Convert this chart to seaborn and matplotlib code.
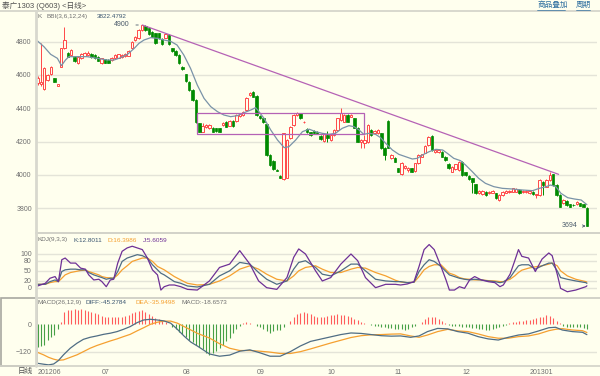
import numpy as np
import matplotlib
matplotlib.use("Agg")
import matplotlib.pyplot as plt
import seaborn as sns
from matplotlib.patches import Rectangle

# daily bars
opens = [4550, 4544, 4516, 4570, 4604, 4580, 4536, 4650, 4760, 4734,
         4720, 4710, 4670, 4700, 4716, 4720, 4726, 4720, 4710, 4670,
         4694, 4690, 4690, 4700, 4704, 4708, 4712, 4716, 4760, 4810,
         4820, 4870, 4896, 4880, 4860, 4850, 4850, 4816, 4824, 4840,
         4760, 4744, 4720, 4650, 4604, 4560, 4510, 4450, 4310, 4260,
         4286, 4280, 4284, 4280, 4280, 4300, 4320, 4296, 4324, 4324,
         4354, 4360, 4390, 4480, 4500, 4474, 4354, 4340, 4304, 4120,
         4084, 4030, 3994, 3976, 3984, 4220, 4300, 4360, 4370, 4316,
         4276, 4256, 4264, 4260, 4236, 4204, 4240, 4210, 4240, 4270,
         4330, 4320, 4360, 4350, 4340, 4284, 4200, 4190, 4196, 4270,
         4250, 4250, 4250, 4164, 4324, 4100, 4104, 4040, 4004, 4040,
         4028, 4040, 4024, 4070, 4110, 4134, 4180, 4236, 4136, 4136,
         4140, 4110, 4066, 4020, 4036, 4030, 4080, 4016, 3996, 3980,
         3944, 3890, 3886, 3900, 3890, 3894, 3890, 3850, 3880, 3894,
         3896, 3900, 3900, 3910, 3896, 3896, 3890, 3900, 3880, 3880,
         3960, 3930, 3970, 4004, 3940, 3880, 3830, 3844, 3824, 3822,
         3824, 3830, 3824, 3804]
closes = [4584, 4560, 4640, 4600, 4646, 4560, 4544, 4760, 4810, 4710,
          4750, 4684, 4710, 4724, 4730, 4730, 4706, 4700, 4686, 4700,
          4674, 4674, 4704, 4720, 4724, 4720, 4728, 4744, 4800, 4830,
          4870, 4900, 4870, 4844, 4830, 4790, 4820, 4786, 4844, 4786,
          4744, 4720, 4670, 4636, 4564, 4510, 4450, 4316, 4260, 4294,
          4300, 4300, 4260, 4264, 4260, 4314, 4290, 4324, 4294, 4360,
          4368, 4380, 4464, 4494, 4470, 4360, 4340, 4316, 4120, 4060,
          4036, 4026, 3984, 4250, 4210, 4290, 4360, 4370, 4340, 4318,
          4256, 4240, 4250, 4248, 4216, 4244, 4220, 4240, 4270, 4340,
          4370, 4360, 4320, 4360, 4284, 4200, 4210, 4210, 4300, 4240,
          4264, 4270, 4160, 4120, 4164, 4120, 4080, 4020, 4074, 4056,
          4044, 4020, 4070, 4120, 4124, 4174, 4230, 4150, 4150, 4150,
          4110, 4090, 4040, 4050, 4064, 4080, 4000, 4000, 3976, 3960,
          3890, 3904, 3904, 3880, 3900, 3904, 3860, 3880, 3900, 3904,
          3906, 3920, 3916, 3890, 3906, 3906, 3906, 3886, 3882, 3970,
          3940, 3970, 4000, 3940, 3880, 3810, 3850, 3820, 3810, 3818,
          3840, 3816, 3810, 3694]
highs = [4592, 4790, 4648, 4608, 4652, 4584, 4548, 4764, 4890, 4740,
         4756, 4714, 4714, 4730, 4736, 4742, 4730, 4724, 4714, 4704,
         4698, 4694, 4708, 4724, 4728, 4724, 4732, 4748, 4804, 4834,
         4874, 4900, 4898, 4884, 4864, 4854, 4854, 4820, 4848, 4844,
         4764, 4748, 4724, 4654, 4608, 4564, 4514, 4454, 4314, 4310,
         4304, 4304, 4288, 4284, 4284, 4318, 4324, 4328, 4328, 4364,
         4372, 4384, 4468, 4498, 4504, 4478, 4358, 4344, 4308, 4124,
         4088, 4034, 3998, 4254, 4214, 4294, 4364, 4376, 4374, 4324,
         4280, 4260, 4268, 4264, 4240, 4248, 4262, 4244, 4274, 4344,
         4400, 4364, 4364, 4364, 4344, 4288, 4214, 4240, 4304, 4274,
         4268, 4274, 4254, 4168, 4328, 4124, 4108, 4044, 4078, 4060,
         4048, 4044, 4074, 4124, 4128, 4178, 4234, 4240, 4154, 4154,
         4144, 4114, 4070, 4054, 4068, 4084, 4084, 4020, 4000, 3984,
         3948, 3908, 3908, 3904, 3904, 3908, 3894, 3884, 3904, 3908,
         3910, 3924, 3920, 3914, 3910, 3910, 3910, 3904, 3886, 3974,
         3964, 3974, 4020, 4008, 3944, 3884, 3854, 3848, 3828, 3826,
         3844, 3834, 3828, 3808]
lows = [4540, 4536, 4510, 4566, 4600, 4556, 4532, 4646, 4756, 4706,
        4716, 4680, 4666, 4696, 4712, 4716, 4702, 4696, 4682, 4666,
        4670, 4670, 4686, 4696, 4700, 4704, 4708, 4712, 4756, 4806,
        4816, 4866, 4866, 4840, 4826, 4786, 4816, 4782, 4820, 4782,
        4740, 4716, 4666, 4632, 4560, 4506, 4446, 4312, 4256, 4256,
        4282, 4276, 4256, 4260, 4256, 4296, 4286, 4292, 4290, 4320,
        4350, 4356, 4386, 4476, 4466, 4356, 4336, 4312, 4116, 4056,
        4032, 4022, 3980, 3972, 3980, 4216, 4296, 4356, 4336, 4312,
        4252, 4236, 4246, 4244, 4212, 4200, 4200, 4206, 4236, 4266,
        4326, 4316, 4316, 4346, 4280, 4196, 4160, 4160, 4192, 4236,
        4246, 4246, 4156, 4090, 4160, 4096, 4076, 4016, 4000, 4036,
        4016, 4016, 4020, 4066, 4106, 4130, 4176, 4146, 4132, 4132,
        4106, 4086, 4036, 4016, 4032, 4026, 3996, 3996, 3972, 3890,
        3886, 3886, 3882, 3876, 3886, 3890, 3856, 3846, 3876, 3890,
        3892, 3896, 3896, 3886, 3892, 3892, 3886, 3882, 3860, 3876,
        3880, 3926, 3966, 3936, 3876, 3806, 3826, 3816, 3806, 3814,
        3820, 3812, 3806, 3694]

# BBI(3,6,12,24) line, read at points along the chart
bbi_x = [0, 1.9, 3.9, 5.9, 7.1, 8.3, 9.3, 11.8, 14.7, 17.7,
         20.7, 22.7, 24.7, 26.7, 28.7, 30.1, 31.6, 33.6, 35.5, 37.5,
         39.5, 41.4, 43.4, 45.4, 47.4, 49.4, 51.4, 53.4, 55.3, 57.3,
         59.3, 61.3, 63.3, 64.7, 65.7, 67.2, 69.2, 71.2, 73.2, 74.6,
         76.6, 78.6, 80.6, 82.5, 84.5, 86.5, 88.4, 90.4, 92.4, 93.9,
         95.4, 96.8, 98.3, 100.3, 101.8, 103.3, 105.3, 107.2, 109.2, 111.2,
         112.7, 114.2, 116.2, 118.2, 120.2, 121.6, 123.5, 125.5, 127, 129,
         130.9, 132.9, 135.4, 137.9, 140.9, 143.9, 146.9, 148.9, 150.9, 152.2,
         153.8, 155.3, 157.3, 159.3, 161.3, 163]
bbi_y = [4804, 4770, 4724, 4700, 4656, 4690, 4710, 4710, 4710, 4700,
         4690, 4690, 4704, 4724, 4760, 4790, 4810, 4824, 4820, 4810,
         4802, 4780, 4720, 4640, 4540, 4460, 4410, 4380, 4360, 4350,
         4356, 4374, 4390, 4404, 4380, 4340, 4270, 4210, 4164, 4170,
         4210, 4260, 4275, 4260, 4250, 4244, 4250, 4280, 4296, 4290,
         4270, 4244, 4250, 4244, 4224, 4190, 4150, 4124, 4110, 4096,
         4100, 4120, 4140, 4154, 4150, 4130, 4100, 4086, 4060, 4020,
         3980, 3950, 3930, 3920, 3916, 3910, 3906, 3920, 3930, 3940,
         3930, 3890, 3864, 3856, 3850, 3822]

# KDJ(9,3,3)
kdj_x = [0, 2.3, 3.7, 5.2, 6.2, 7.2, 8.2, 9.8, 11.3, 12.8,
         14.2, 15.2, 16.7, 18.2, 19.1, 20.4, 21.6, 22.6, 23.8, 25.1,
         26.6, 28.1, 29.6, 31.1, 32.6, 34.1, 35.6, 36.6, 37.6, 39.1,
         40.6, 42.5, 44.5, 47.4, 51, 54, 57, 60, 63, 65.6,
         68, 71, 74, 76, 77.5, 79.5, 82.5, 84.5, 87, 90,
         93, 95, 97.3, 100.3, 103.3, 106.2, 107.7, 109.7, 111.7, 113.2,
         114.7, 116.2, 117.7, 119.7, 121.2, 122.2, 123.7, 125.2, 126.7, 128.2,
         129.7, 131.7, 133.7, 135.7, 137.2, 138.2, 140.2, 141.6, 142.7, 143.7,
         145.7, 147.7, 149.7, 151.7, 152.7, 154.2, 155.2, 157.2, 159.7, 162.7,
         163]
k_vals = [10, 10, 18, 23, 18, 48, 53, 55, 55, 53,
          53, 45, 38, 33, 30, 25, 28, 28, 48, 78,
          88, 93, 98, 95, 88, 68, 53, 43, 38, 28,
          18, 13, 5, 2, 10, 35, 50, 75, 70, 45,
          25, 10, 20, 55, 75, 80, 60, 40, 35, 50,
          70, 70, 50, 25, 20, 18, 18, 15, 16, 48,
          68, 83, 78, 63, 48, 38, 33, 28, 25, 23,
          25, 23, 20, 18, 15, 17, 30, 50, 65, 68,
          68, 55, 65, 73, 73, 50, 30, 25, 20, 15,
          12.8]
d_vals = [10, 10, 15, 18, 18, 28, 38, 45, 48, 51,
          52, 48, 43, 38, 33, 30, 29, 28, 38, 53,
          65, 78, 83, 88, 88, 78, 63, 58, 53, 43,
          33, 23, 13, 8, 10, 20, 35, 55, 65, 55,
          40, 25, 20, 35, 50, 60, 65, 55, 45, 45,
          55, 60, 58, 45, 35, 22, 17, 15, 16, 33,
          53, 63, 68, 68, 53, 43, 38, 30, 26, 25,
          23, 23, 21, 20, 18, 18, 25, 35, 45, 52,
          58, 62, 65, 70, 73, 65, 50, 35, 25, 18,
          16.4]
j_vals = [5, 13, 28, 33, 18, 83, 88, 73, 73, 58,
          55, 38, 23, 25, 18, 3, 23, 25, 73, 108,
          118, 123, 118, 113, 88, 53, 38, -7, 3, 8,
          8, 3, -5, -7, 20, 60, 70, 110, 70, 20,
          0, -5, 30, 90, 115, 100, 50, 20, 30, 70,
          100, 80, 30, 0, 10, 10, 8, 11, 18, 63,
          113, 128, 113, 63, 23, -7, -7, 3, -2, 23,
          33, 23, 18, 15, 3, 8, 40, 80, 113, 93,
          88, 48, 85, 103, 95, 40, -2, -12, -7, 3,
          5.6]

# MACD(26,12,9)
macd_x = [0, 1.8, 3.3, 4.8, 6.2, 7.7, 9.7, 11.7, 13.6, 15.6,
          17.6, 19.6, 21.6, 23.6, 25.5, 27.5, 29.5, 31.5, 33.5, 35.5,
          37.5, 39.5, 41.5, 43.5, 45.5, 47.5, 51, 54, 57, 60,
          63, 66, 69, 72, 75, 78, 81, 84, 87, 90,
          93, 96, 99, 102, 105, 107.7, 110.7, 113.2, 115.7, 118.7,
          121.7, 124.7, 127.7, 130.7, 133.7, 136.7, 139.7, 142.7, 145.7, 148.7,
          151.7, 153.7, 155.7, 158.7, 161.7, 163]
diff_vals = [-171, -175, -178, -174, -159, -134, -105, -83, -66, -57,
             -51, -44, -39, -32, -22, -10, 7, 19, 22, 19,
             15, 5, -22, -52, -78, -96, -130, -140, -135, -118,
             -112, -125, -140, -140, -120, -95, -75, -65, -55, -45,
             -38, -40, -45, -50, -52, -51, -57, -51, -32, -18,
             -20, -32, -39, -54, -64, -69, -57, -47, -42, -29,
             -15, -13, -25, -32, -35, -45.3]
dea_vals = [-123, -134, -145, -153, -158, -156, -145, -134, -120, -105,
            -93, -83, -73, -64, -54, -44, -29, -15, 0, 9,
            14, 14, 5, -10, -25, -40, -60, -85, -105, -115,
            -115, -118, -122, -128, -128, -120, -108, -95, -82, -70,
            -58, -50, -46, -45, -43, -42, -51, -57, -47, -32,
            -22, -29, -32, -42, -54, -61, -61, -54, -51, -42,
            -28, -22, -19, -25, -28, -35.9]
macd_hist = [-100, -95, -90, -69, -54, -47, -22, 12, 55, 63,
             63, 66, 63, 66, 63, 58, 55, 51, 45, 36,
             31, 31, 31, 31, 31, 34, 36, 41, 48, 55,
             60, 63, 55, 45, 36, 29, 22, 16, 9, 1,
             -10, -20, -32, -42, -57, -69, -79, -90, -100, -110,
             -125, -135, -125, -115, -105, -90, -75, -60, -40, -20,
             -6, 4, 8, 6, 2, -6, -14, -22, -30, -36,
             -30, -26, -24, -14, 0, 16, 30, 44, 50, 52,
             50, 46, 36, 32, 30, 32, 36, 40, 42, 44,
             40, 40, 38, 30, 24, 18, 10, 4, 0, -2,
             -6, -8, -10, -14, -18, -18, -20, -22, -22, -24,
             -20, -14, -8, 2, 8, 22, 32, 34, 30, 24,
             14, 6, -2, -6, -8, -8, -10, -12, -14, -16,
             -18, -20, -22, -24, -24, -22, -18, -12, -6, -2,
             4, 8, 12, 14, 16, 18, 20, 22, 26, 30,
             34, 40, 36, 26, 14, 4, -8, -10, -12, -12,
             -14, -14, -16, -18.66]

month_pos = [0, 19, 43, 65, 86, 106, 126, 146]
month_labels = ['201206', '07', '08', '09', '10', '11', '12', '201301']

# drawn trend line and consolidation box
trend_x = [31.1, 154.6]
trend_y = [4900, 4004]
box_x = [47.2, 96.8]
box_y = [4244, 4370]

assert len(opens) == len(closes) == len(highs) == len(lows) == len(macd_hist)

sns.set_style('white')
plt.rcParams['font.family'] = ['Liberation Sans', 'Noto Sans CJK SC']

BG = '#FFFFEE'
GRID = '#E4E4D8'
SEP = '#D2D2C8'
GRAY = '#707070'
RED = '#FF4848'
GREEN = '#008A00'
KCOL = '#4F6D84'
DCOL = '#F5A030'
JCOL = '#6E3096'
TREND = '#B562B5'
HEAD = 4.6

W, H = 600, 376
fig = plt.figure(figsize=(6, 3.76), dpi=100, facecolor=BG)


def box(x0, y0, x1, y1):
    return [x0 / W, 1 - y1 / H, (x1 - x0) / W, (y1 - y0) / H]


def T(x, y, s, size=HEAD, color=GRAY, **kw):
    fig.text(x / W, 1 - y / H, s, fontsize=size, color=color, va='center', **kw)


def L(x0, y0, x1, y1, color=SEP, lw=1.0):
    fig.add_artist(plt.Line2D([x0 / W, x1 / W], [1 - y0 / H, 1 - y1 / H],
                              transform=fig.transFigure, color=color, lw=lw))


ax = fig.add_axes(box(36, 12, 597, 233))
ax_k = fig.add_axes(box(36, 233, 597, 298))
ax_m = fig.add_axes(box(36, 298, 597, 366))
for a in (ax, ax_k, ax_m):
    a.set_facecolor(BG)
    for s in a.spines.values():
        s.set_visible(False)
    a.set_xlim(-0.45, 166)
    a.set_xticks([])
    a.tick_params(axis='both', length=0, labelsize=5, labelcolor=GRAY, pad=3)

# --- price panel ---
idx = np.arange(len(opens))
o = np.array(opens, float)
c = np.array(closes, float)
hi = np.array(highs, float)
lo = np.array(lows, float)
up = c >= o
cols = np.where(up, RED, GREEN)

ax.set_ylim(3652, 4978)
price_ticks = [3800, 4000, 4200, 4400, 4600, 4800]
ax.set_yticks(price_ticks)
for v in price_ticks:
    ax.axhline(v, color=GRID, lw=1.0, zorder=0)

ax.vlines(idx, lo, hi, colors=cols, lw=0.7, zorder=2)
body_lo = np.minimum(o, c)
body_h = np.maximum(np.abs(c - o), 3)
ax.bar(idx[up], body_h[up], bottom=body_lo[up], width=0.72,
       facecolor=BG, edgecolor=RED, lw=0.7, zorder=3)
ax.bar(idx[~up], body_h[~up], bottom=body_lo[~up], width=0.72,
       facecolor=GREEN, edgecolor=GREEN, lw=0.5, zorder=3)

sns.lineplot(x=bbi_x, y=bbi_y, ax=ax, color='#7A93A8', lw=0.9, zorder=4)
ax.plot(trend_x, trend_y, color=TREND, lw=0.9, zorder=4)
ax.add_patch(Rectangle((box_x[0], box_y[0]), box_x[1] - box_x[0], box_y[1] - box_y[0],
                       fill=False, ec=TREND, lw=0.9, zorder=4))

ax.annotate('4900', xy=(29.9, 4900), xytext=(27.4, 4900), fontsize=5, color='#4A5A6A',
            ha='right', va='center', arrowprops=dict(arrowstyle='-', color='#4A5A6A', lw=0.6))
ax.annotate('3694', xy=(162.6, 3694), xytext=(160.3, 3694), fontsize=5, color='#4A5A6A',
            ha='right', va='center', arrowprops=dict(arrowstyle='->', color='#4A5A6A', lw=0.6,
                                                     mutation_scale=4))
ax.set_xlabel('')
ax.set_ylabel('')

# --- KDJ panel ---
ax_k.set_ylim(-30.6, 162.3)
kdj_ticks = [0, 20, 50, 80, 100]
ax_k.set_yticks(kdj_ticks)
for v in kdj_ticks:
    ax_k.axhline(v, color=GRID, lw=1.0, zorder=0)
sns.lineplot(x=kdj_x, y=d_vals, ax=ax_k, color=DCOL, lw=0.9)
sns.lineplot(x=kdj_x, y=k_vals, ax=ax_k, color=KCOL, lw=0.9)
sns.lineplot(x=kdj_x, y=j_vals, ax=ax_k, color=JCOL, lw=0.9)
ax_k.set_xlabel('')
ax_k.set_ylabel('')

# --- MACD panel ---
ax_m.set_ylim(-182.9, 115.4)
ax_m.set_yticks([0, -120])
ax_m.axhline(-120, color=GRID, lw=1.0, zorder=0)
hist = np.array(macd_hist, float)
ax_m.vlines(idx, 0, hist, colors=np.where(hist >= 0, '#FF5C5C', '#46A046'), lw=0.8)
sns.lineplot(x=macd_x, y=dea_vals, ax=ax_m, color=DCOL, lw=0.9)
sns.lineplot(x=macd_x, y=diff_vals, ax=ax_m, color=KCOL, lw=0.9)
ax_m.set_xlabel('')
ax_m.set_ylabel('')
ax_m.set_xticks(month_pos)
ax_m.set_xticklabels(month_labels, ha='left')
ax_m.tick_params(axis='x', pad=2.5, labelsize=5, labelcolor=GRAY)

# frame lines
L(0, 11, 600, 11, lw=1.2)
L(36, 233, 600, 233, lw=1.4)
L(36, 298, 600, 298, lw=1.4)
L(0, 366, 600, 366, lw=1.2)
L(36, 11, 36, 366, color='#D8D8CE', lw=2.0)
fig.add_artist(Rectangle((0.5 / W, 1 - 366 / H), 36 / W, 68 / H, transform=fig.transFigure,
                         fill=False, ec='#A8A8A0', lw=1.2))

# texts
T(2, 5.5, '泰广1303 (Q603) <日线>', size=5.5, color='#505050')
T(537, 5.5, '商品叠加', size=5.5, color='#2F6F9F')
T(576, 5.5, '周期', size=5.5, color='#2F6F9F')
L(537, 9.5, 565, 9.5, color='#2F6F9F', lw=0.5)
L(576, 9.5, 590, 9.5, color='#2F6F9F', lw=0.5)

T(37.5, 16.5, 'K', color=GRAY)
T(46.5, 16.5, 'BBI(3,6,12,24)', color=GRAY)
T(96.5, 16.5, '3822.4792', color='#3A5570')

T(37.5, 240, 'KDJ(9,3,3)', color=GRAY)
T(73, 240, 'K:12.8011', color='#3A5570')
T(108, 240, 'D:16.3986', color=DCOL)
T(143, 240, 'J:5.6059', color=JCOL)

T(37.5, 302.5, 'MACD(26,12,9)', color=GRAY)
T(86, 302.5, 'DIFF:-45.2784', color='#3A5570')
T(135, 302.5, 'DEA:-35.9498', color=DCOL)
T(181, 302.5, 'MACD:-18.6573', color=GRAY)

T(33, 371.5, '日线', size=5.5, color='#505050', ha='right')

fig.savefig('out.png', dpi=100, facecolor=BG)
